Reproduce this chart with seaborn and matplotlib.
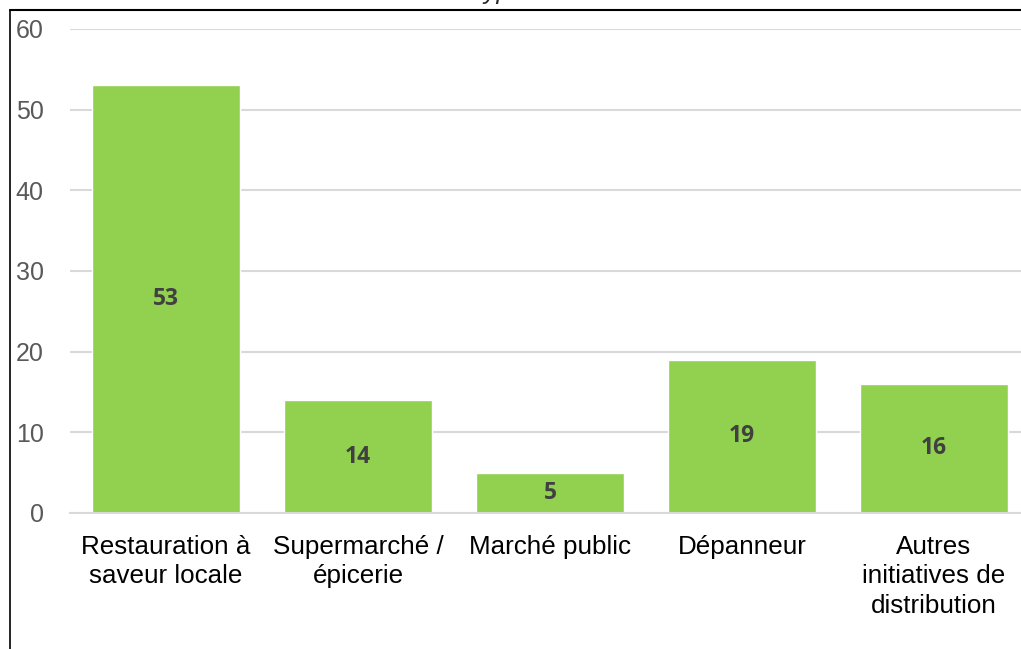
import matplotlib
matplotlib.use("Agg")
import matplotlib.pyplot as plt
import seaborn as sns
import pandas as pd
from matplotlib.lines import Line2D

categories = ["Restauration à\nsaveur locale", "Supermarché /\népicerie", "Marché public",
              "Dépanneur", "Autres\ninitiatives de\ndistribution"]
values = [53, 14, 5, 19, 16]
y_ticks = [0, 10, 20, 30, 40, 50, 60]

sns.set_theme(style="white")
plt.rcParams['font.family'] = ['Liberation Sans', 'DejaVu Sans']

df = pd.DataFrame({"cat": categories, "n": values})

W, H = 1021, 649
fig = plt.figure(figsize=(W / 100, H / 100), dpi=100)
# plot area runs off the right edge like in the cropped source
ax = fig.add_axes([70 / W, (H - 513) / H, 960 / W, 484 / H])

sns.barplot(data=df, x="cat", y="n", color="#92D050", saturation=1, width=0.766, ax=ax)

ax.set_xlim(-0.5, 4.5)
ax.set_ylim(0, 60)
ax.set_yticks(y_ticks)
ax.yaxis.grid(True, color="#d9d9d9", linewidth=1.5)
ax.set_axisbelow(True)
for s in ["top", "right", "left"]:
    ax.spines[s].set_visible(False)
ax.spines["bottom"].set_color("#d9d9d9")
ax.spines["bottom"].set_linewidth(1.5)
ax.set_xlabel("")
ax.set_ylabel("")
ax.tick_params(axis="y", length=0, pad=19, labelsize=18, labelcolor="#595959")
ax.tick_params(axis="x", length=0, pad=15.5, labelsize=18.7, labelcolor="black")
for lab in ax.get_xticklabels():
    lab.set_linespacing(1.3)

ax.bar_label(ax.containers[0], label_type="center", fontsize=16.5, fontweight="bold",
             color="#404040", family=["Open Sans", "DejaVu Sans"])

# frame lines of the cropped chart box
fig.add_artist(Line2D([10 / W, 10 / W], [0, (H - 10) / H], color="black", linewidth=1.2,
                      transform=fig.transFigure))
fig.add_artist(Line2D([10 / W, 1], [(H - 10) / H, (H - 10) / H], color="black",
                      linewidth=1.5, transform=fig.transFigure))
# title cut off at the top, only descenders visible
fig.text(478 / W, (H + 1) / H, "type", fontsize=18, style="italic", ha="left", va="baseline")

fig.savefig("out.png", dpi=100)
